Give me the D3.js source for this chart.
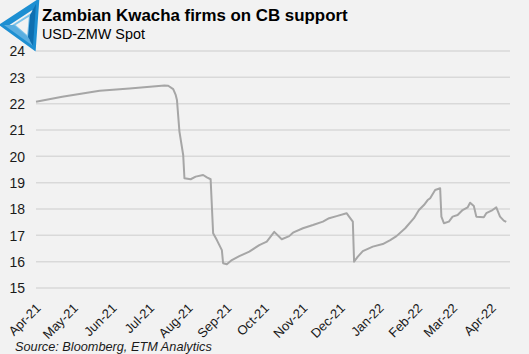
<!DOCTYPE html>
<html>
<head>
<meta charset="utf-8">
<script src="https://cdn.jsdelivr.net/npm/d3@7/dist/d3.min.js"></script>
<style>
html,body{margin:0;padding:0;background:#f2f2f2;}
svg{display:block;}
</style>
</head>
<body>
<script>
// ---- Data ----
const title = "Zambian Kwacha firms on CB support";
const subtitle = "USD-ZMW Spot";
const source = "Source: Bloomberg, ETM Analytics";
const yTicks = [15,16,17,18,19,20,21,22,23,24];
const monthTicks = ["2021-04-01","2021-05-01","2021-06-01","2021-07-01","2021-08-01","2021-09-01","2021-10-01","2021-11-01","2021-12-01","2022-01-01","2022-02-01","2022-03-01","2022-04-01"];
const dates = ["2021-04-01","2021-04-22","2021-05-22","2021-06-15","2021-07-13","2021-07-16","2021-07-20","2021-07-22","2021-07-23","2021-07-25","2021-07-28","2021-07-29","2021-08-03","2021-08-07","2021-08-13","2021-08-16","2021-08-19","2021-08-21","2021-08-24","2021-08-28","2021-08-29","2021-09-01","2021-09-05","2021-09-11","2021-09-19","2021-09-27","2021-10-03","2021-10-09","2021-10-15","2021-10-21","2021-10-24","2021-11-01","2021-11-09","2021-11-17","2021-11-22","2021-11-28","2021-12-06","2021-12-08","2021-12-11","2021-12-12","2021-12-15","2021-12-19","2021-12-27","2022-01-04","2022-01-10","2022-01-15","2022-01-22","2022-01-29","2022-02-02","2022-02-06","2022-02-09","2022-02-11","2022-02-15","2022-02-19","2022-02-20","2022-02-22","2022-02-26","2022-03-01","2022-03-05","2022-03-09","2022-03-13","2022-03-15","2022-03-18","2022-03-20","2022-03-26","2022-03-28","2022-04-02","2022-04-05","2022-04-08","2022-04-11","2022-04-13"];
const values = [22.07,22.26,22.49,22.58,22.69,22.68,22.55,22.33,22.14,20.94,20.05,19.17,19.13,19.23,19.29,19.2,19.13,17.08,16.82,16.44,15.94,15.9,16.06,16.21,16.38,16.63,16.76,17.13,16.85,16.97,17.1,17.27,17.39,17.52,17.65,17.73,17.84,17.71,17.52,16.0,16.19,16.4,16.57,16.67,16.82,16.97,17.27,17.65,17.96,18.15,18.34,18.41,18.72,18.79,17.71,17.46,17.52,17.71,17.77,17.96,18.06,18.24,18.11,17.71,17.69,17.84,17.96,18.06,17.71,17.56,17.51];
const domainStart = "2021-04-01", domainEnd = "2022-04-16";

const W = 529, H = 354;
const parse = d3.utcParse("%Y-%m-%d");
const fmt = d3.utcFormat("%b-%y");
const data = dates.map((d,i)=>({date:parse(d), v:values[i]}));

const svg = d3.select("body").append("svg").attr("width",W).attr("height",H);
svg.append("rect").attr("width",W).attr("height",H).attr("fill","#f2f2f2");

const x = d3.scaleUtc().domain([parse(domainStart), parse(domainEnd)]).range([36,510]);
const y = d3.scaleLinear().domain([15,24]).range([288,51]);

// gridlines
svg.append("g").selectAll("line").data(yTicks).join("line")
  .attr("x1",36).attr("x2",510)
  .attr("y1",d=>y(d)).attr("y2",d=>y(d))
  .attr("stroke","#d9d9d9").attr("stroke-width",1.5);

// y axis labels
const yAxis = d3.axisLeft(y).tickValues(yTicks).tickSize(0).tickPadding(0).tickFormat(d3.format("d"));
const ga = svg.append("g").attr("transform","translate(25,0)").call(yAxis);
ga.select(".domain").remove();
ga.selectAll("text").attr("font-family","'Liberation Sans', Arial, sans-serif").attr("font-size",14).attr("fill","#1a1a1a").attr("dy","0.35em");

// x axis labels
const xAxis = d3.axisBottom(x).tickValues(monthTicks.map(parse)).tickSize(0).tickPadding(0).tickFormat(fmt);
const gx = svg.append("g").attr("transform","translate(0,288)").call(xAxis);
gx.select(".domain").remove();
gx.selectAll("text")
  .attr("font-family","'Liberation Sans', Arial, sans-serif").attr("font-size",13).attr("fill","#1a1a1a")
  .attr("text-anchor","end").attr("dy",null).attr("y",null)
  .attr("transform","translate(5,21) rotate(-45)");

// line
const line = d3.line().x(d=>x(d.date)).y(d=>y(d.v));
svg.append("path").datum(data).attr("d",line).attr("fill","none")
  .attr("stroke","#a6a6a6").attr("stroke-width",2).attr("stroke-linejoin","round");

// logo
const logo = svg.append("g");
logo.append("path").attr("d","M4,25 L36,4 L33,46 Z").attr("fill","none").attr("stroke","#1d8fd2").attr("stroke-width",6).attr("stroke-linejoin","miter");
logo.append("path").attr("d","M14,25 L30,15 L28,37 Z").attr("fill","#f2f2f2").attr("stroke","#7cc3ea").attr("stroke-width",2);
logo.append("path").attr("d","M4,25 L14,25 L28,37 L33,46 Z").attr("fill","#5aaee0");
logo.append("path").attr("d","M36,4 L30,15 L28,37 L33,46 Z").attr("fill","#0f6fb0");

// titles
function fitText(sel, targetW){
  const node = sel.node(); const w = node.getComputedTextLength();
  const fs = parseFloat(sel.attr("font-size"));
  sel.attr("font-size", fs*targetW/w);
}
const t = svg.append("text").attr("x",42).attr("y",21).text(title)
  .attr("font-family","'Liberation Sans', Arial, sans-serif").attr("font-weight","bold").attr("font-size",16).attr("fill","#000");
fitText(t,306);
const st = svg.append("text").attr("x",42).attr("y",39).text(subtitle)
  .attr("font-family","'Liberation Sans', Arial, sans-serif").attr("font-size",14).attr("fill","#000");
fitText(st,103);
const so = svg.append("text").attr("x",15).attr("y",351).text(source)
  .attr("font-family","'Liberation Sans', Arial, sans-serif").attr("font-style","italic").attr("font-size",14).attr("fill","#1a1a1a");
fitText(so,197);
</script>
</body>
</html>
